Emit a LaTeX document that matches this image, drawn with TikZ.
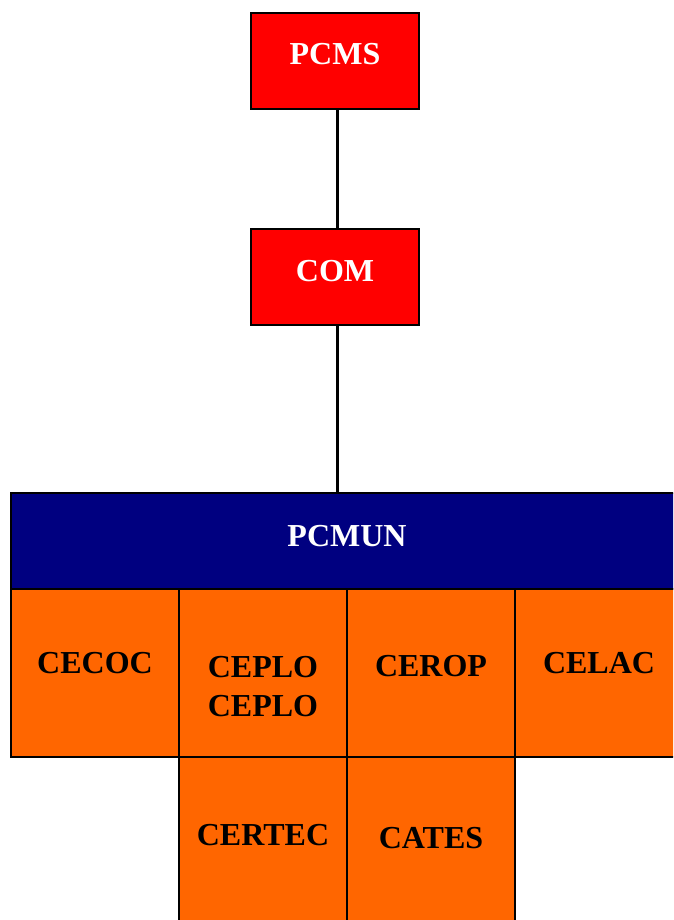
\documentclass[tikz,border=0pt]{standalone}
\usepackage{fontspec}
\setmainfont{Liberation Serif}
\definecolor{boxred}{HTML}{FF0000}
\definecolor{boxnavy}{HTML}{000080}
\definecolor{boxorange}{HTML}{FF6600}
\newcommand{\unitfont}{\fontsize{32pt}{39pt}\selectfont\bfseries}

\begin{document}
\begin{tikzpicture}
[every node/.style={inner sep=0pt},
 headbox/.style={rectangle, minimum width=168pt, minimum height=96pt, fill=boxred, line width=1.5pt, draw=black, text=white, font=\unitfont},
 barbox/.style={rectangle, minimum width=672pt, minimum height=96pt, fill=boxnavy, line width=1.5pt, draw=black, text=white, font=\unitfont},
 cellbox/.style={rectangle, minimum width=168pt, minimum height=168pt, fill=boxorange, line width=1.5pt, draw=black, text=black, font=\unitfont, align=center}]
\useasboundingbox (0pt, 0pt) rectangle (673pt, -920pt);
\clip (0pt, 0pt) rectangle (673pt, -920pt);
\node (pcms) [headbox, text depth=14pt] at (335pt, -61pt) {PCMS};
\node (com) [headbox, text depth=12pt] at (335pt, -277pt) {COM};
\node (pcmun) [barbox, text depth=10pt] at (347pt, -541pt) {PCMUN};
\node (cecoc) [cellbox, text depth=20pt] at (95pt, -673pt) {CECOC};
\node (ceplo) [cellbox, text height=88pt] at (263pt, -673pt) {CEPLO\\ CEPLO};
\node (cerop) [cellbox, text depth=14pt] at (431pt, -673pt) {CEROP};
\node (celac) [cellbox, text depth=20pt] at (599pt, -673pt) {CELAC};
\node (certec) [cellbox, text depth=12pt] at (263pt, -841pt) {CERTEC};
\node (cates) [cellbox, text depth=6pt] at (431pt, -841pt) {CATES};
\draw [line width=3pt, color=black] ([xshift=2pt]pcms.south) -- ([xshift=2pt]com.north);
\draw [line width=3pt, color=black] ([xshift=2pt]com.south) -- ([xshift=2pt]com.south |- pcmun.north);
\end{tikzpicture}
\end{document}
